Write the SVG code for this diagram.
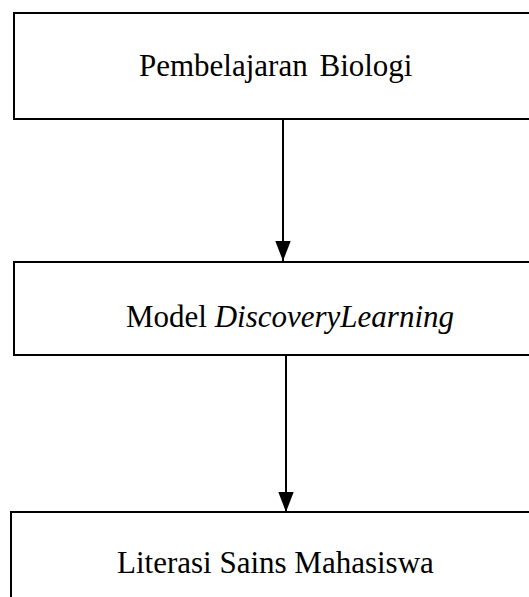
<svg xmlns="http://www.w3.org/2000/svg" width="529" height="597" viewBox="0 0 529 597">
<style>
.box{fill:#fff;stroke:#000;stroke-width:2}
.t{font-family:"Liberation Serif","Times New Roman",serif;font-size:31px;fill:#000}
.c{stroke:#000;stroke-width:2;fill:none}
</style>
<defs>
<marker id="ah" markerUnits="userSpaceOnUse" markerWidth="20" markerHeight="26" refX="26" refY="10" orient="auto" viewBox="0 0 26 20">
<path d="M0,0 L26,10 L0,20 Z" fill="#000"/>
</marker>
</defs>
<rect width="529" height="597" fill="#fff"/>
<g id="n1"><rect class="box" x="14" y="13" width="530" height="106"/><text class="t" x="139" y="76" word-spacing="4">Pembelajaran Biologi</text></g>
<g id="n2"><rect class="box" x="14" y="262" width="530" height="93"/><text class="t" x="126" y="327">Model <tspan font-style="italic">DiscoveryLearning</tspan></text></g>
<g id="n3"><rect class="box" x="11" y="512" width="530" height="100"/><text class="t" x="117" y="573">Literasi Sains Mahasiswa</text></g>
<g id="connectors">
<line class="c" x1="283" y1="119" x2="283" y2="261" marker-end="url(#ah)"/>
<line class="c" x1="286" y1="355" x2="286" y2="512" marker-end="url(#ah)"/>
</g>
</svg>
